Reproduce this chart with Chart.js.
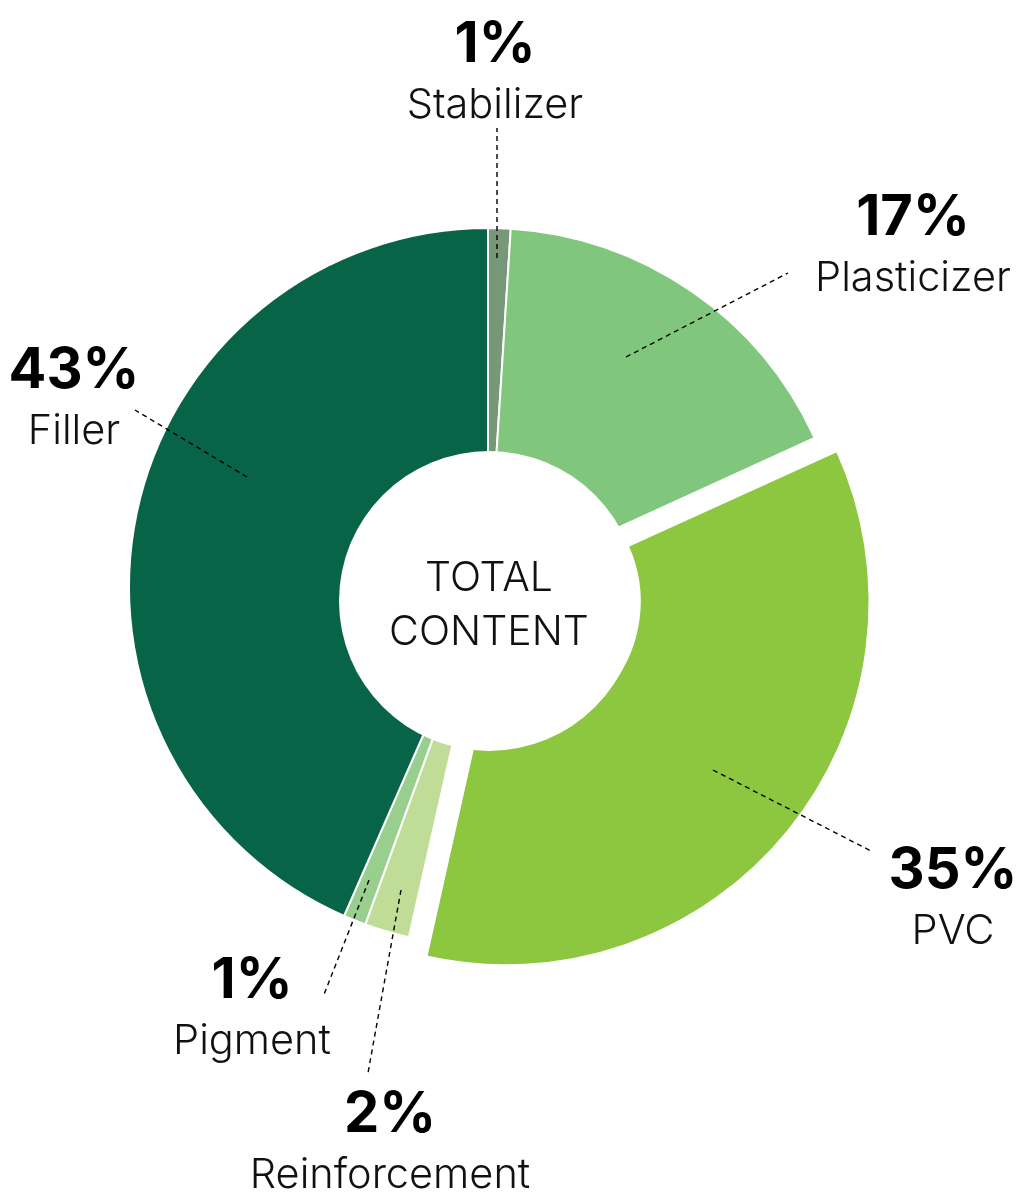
<!DOCTYPE html>
<html><head><meta charset="utf-8">
<script src="https://cdn.jsdelivr.net/npm/chart.js@4.4.1/dist/chart.umd.min.js"></script>
<style>html,body{margin:0;padding:0;background:#fff;}canvas{display:block;}</style>
</head><body>
<canvas id="c" width="1018" height="1193"></canvas>
<script>
// ---- data ----
const categories = ['Stabilizer', 'Plasticizer', 'PVC', 'Reinforcement', 'Pigment', 'Filler'];
const shares = [1, 17, 35, 2, 1, 43];
const percentLabels = ['1%', '17%', '35%', '2%', '1%', '43%'];
const centerTitle = ['TOTAL', 'CONTENT'];

// ---- styling / layout (kept separate from data) ----
const sliceColors = ['#779878', '#80c67c', '#8dc63f', '#c0dd98', '#98cf8f', '#086446'];
const sliceOffsets = [0, 0, 92, 0, 0, 0];
// leader lines: [startDx, startDy, endDx, endDy] relative to chart centre
const leaderLines = [
  [9, -329, 9, -459],
  [138, -230, 300, -314],
  [225, 183, 385, 265],
  [-87, 303, -120, 486],
  [-119, 293, -165, 410],
  [-241, -110, -353, -177]
];
// label anchors: [centreDx, percentBaselineDy] relative to chart centre
const labelAnchors = [
  [7, -525],
  [425, -352],
  [465, 301],
  [-98, 545],
  [-236, 411],
  [-414, -199]
];

const overlayPlugin = {
  id: 'overlay',
  afterDatasetsDraw(chart) {
    const ctx = chart.ctx;
    const arc = chart.getDatasetMeta(0).data[0];
    const cx = arc.x, cy = arc.y;
    ctx.save();
    // centre disc
    const hx = cx + 1, hy = cy + 14;
    ctx.beginPath();
    ctx.arc(hx, hy, 150, 0, Math.PI * 2);
    ctx.fillStyle = '#ffffff';
    ctx.fill();
    ctx.fillStyle = '#111';
    ctx.textAlign = 'center';
    ctx.textBaseline = 'alphabetic';
    ctx.font = '300 41px Inter';
    ctx.fillText(centerTitle[0], hx, hy - 10);
    ctx.fillText(centerTitle[1], hx, hy + 44);
    // leader lines
    ctx.strokeStyle = '#000';
    ctx.lineWidth = 1.4;
    ctx.setLineDash([5, 4]);
    leaderLines.forEach(l => {
      ctx.beginPath();
      ctx.moveTo(cx + l[0], cy + l[1]);
      ctx.lineTo(cx + l[2], cy + l[3]);
      ctx.stroke();
    });
    ctx.setLineDash([]);
    // labels
    categories.forEach((name, i) => {
      const a = labelAnchors[i];
      ctx.fillStyle = '#000';
      ctx.font = 'bold 56px Inter';
      ctx.fillText(percentLabels[i], cx + a[0], cy + a[1]);
      ctx.fillStyle = '#111';
      ctx.font = '300 41.5px Inter';
      ctx.fillText(name, cx + a[0], cy + a[1] + 56);
    });
    ctx.restore();
  }
};

new Chart(document.getElementById('c'), {
  type: 'doughnut',
  data: {
    labels: categories,
    datasets: [{
      data: shares,
      backgroundColor: sliceColors,
      borderColor: '#ffffff',
      borderWidth: 2,
      offset: sliceOffsets,
      hoverOffset: 0
    }]
  },
  options: {
    responsive: false,
    animation: false,
    events: [],
    radius: 359,
    cutout: '36%',
    rotation: 0,
    layout: { padding: { left: 0, right: 42, top: 0, bottom: 19 } },
    plugins: { legend: { display: false }, tooltip: { enabled: false } }
  },
  plugins: [overlayPlugin]
});
</script>
</body></html>
